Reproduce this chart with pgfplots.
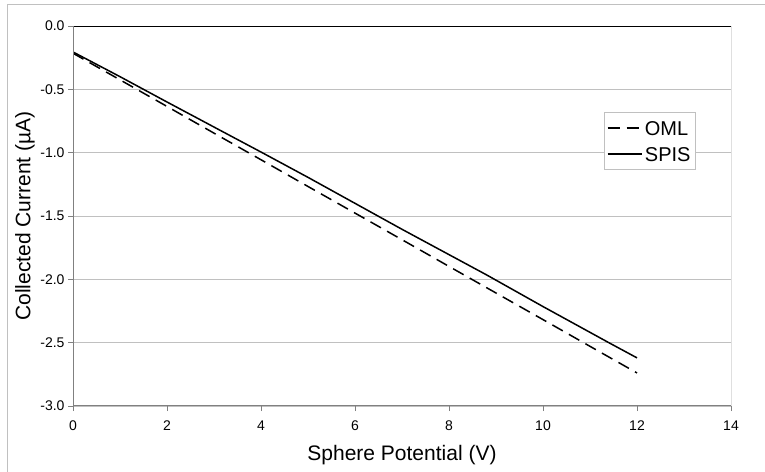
\documentclass[border=0pt]{standalone}
\usepackage{fontspec}
\setmainfont{Liberation Sans}
\usepackage{pgfplots}
\pgfplotsset{compat=1.18}
\definecolor{gridgray}{HTML}{C0C0C0}
\definecolor{axgray}{HTML}{808080}
\begin{document}
\begin{tikzpicture}
\useasboundingbox (0,0) rectangle (765bp,472bp);
\draw[gridgray, line width=0.8bp] (7bp,0) -- (7bp,468bp) -- (765bp,468bp);
\begin{axis}[
  at={(73bp,66bp)}, anchor=south west,
  scale only axis, width=658bp, height=380bp,
  xmin=0, xmax=14, ymin=-3, ymax=0,
  xtick={0,2,...,14}, ytick={-3,-2.5,...,0},
  ymajorgrids, grid style={gridgray, line width=0.8bp},
  axis line style={draw=none},
  tick pos=left, tick align=outside, major tick length=5bp,
  every tick/.style={axgray, line width=0.8bp},
  /pgf/number format/assume math mode=true,
  yticklabel style={/pgf/number format/.cd, fixed, fixed zerofill, precision=1},
  tick label style={font=\fontsize{14bp}{16bp}\selectfont},
  xticklabel style={yshift=-6bp},
  xlabel={Sphere Potential (V)},
  ylabel={Collected Current (µA)},
  every axis x label/.style={at={(axis description cs:0.5,0)}, anchor=center, yshift=-49bp, font=\fontsize{21bp}{24bp}\selectfont},
  every axis y label/.style={at={(axis description cs:0,0.5)}, xshift=-48bp, rotate=90, anchor=center, font=\fontsize{21bp}{24bp}\selectfont},
  legend style={at={(rel axis cs:0.807,0.774)}, anchor=north west, draw=gridgray, line width=0.8bp,
    font=\fontsize{20bp}{22bp}\selectfont, inner sep=2.5bp, row sep=0bp,
    nodes={inner xsep=2.5bp, inner ysep=5.75bp, text height=14.5bp, text depth=0bp}},
  legend cell align=left,
  legend image code/.code={\draw[#1] (0bp,0bp) -- (34bp,0bp);},
]
\addplot[black, line width=1.5bp, dash pattern=on 12bp off 7bp] coordinates {
(0,-0.215) (1,-0.425) (2,-0.635) (3,-0.846) (4,-1.056) (5,-1.267) (6,-1.477)
(7,-1.687) (8,-1.898) (9,-2.108) (10,-2.318) (11,-2.529) (12,-2.739)};
\addlegendentry{OML}
\addplot[black, line width=1.5bp] coordinates {
(0,-0.205) (1,-0.40) (2,-0.60) (3.3,-0.857) (4,-0.995) (5,-1.195) (6,-1.40)
(7,-1.605) (8,-1.805) (8.8,-1.965) (10,-2.215) (11.4,-2.50) (12,-2.62)};
\addlegendentry{SPIS}
\draw[black, line width=0.8bp] (rel axis cs:0,1) -- (rel axis cs:1,1) -- (rel axis cs:1,0);
\draw[axgray, line width=1.6bp] (rel axis cs:0,1) -- (rel axis cs:0,0) -- (rel axis cs:1,0);
\end{axis}
\end{tikzpicture}
\end{document}
